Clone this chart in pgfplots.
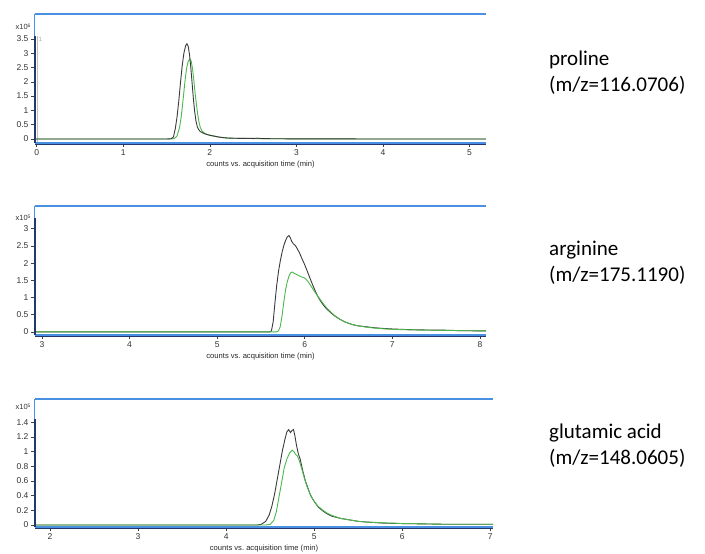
\documentclass[border=0pt]{standalone}
\usepackage{fontspec}
\setmainfont{Carlito}
\newfontfamily\tickfont{Liberation Sans}
\usepackage{pgfplots}
\pgfplotsset{compat=1.18}

\definecolor{framec}{HTML}{4A90E2}
\definecolor{axisc}{HTML}{1F3A6B}
\definecolor{trace}{HTML}{3A3A3A}
\definecolor{greentr}{HTML}{4CB84C}

\pgfplotsset{
  chrom/.style={
    scale only axis, clip=false,
    axis line style={draw=none},
    tick align=outside,
    xtick pos=bottom, ytick pos=left,
    major tick length=4pt, minor tick length=2pt,
    tick style={draw=black!75, line width=0.5pt},
    scaled y ticks=false,
    /pgf/number format/assume math mode=true,
    ticklabel style={font=\tickfont\fontsize{8.5}{9}\selectfont, text=black!80},
    yticklabel style={xshift=1pt},
    xticklabel style={yshift=1pt},
    xlabel={counts vs.\ acquisition time (min)},
    xlabel style={font=\tickfont\fontsize{7.6}{8}\selectfont, text=black!85, yshift=1pt},
  },
  blk/.style={trace, line width=0.9pt},
  grn/.style={greentr, line width=0.9pt},
}

\newcommand{\chromframe}[1]{%
  \draw[framec, line width=1.4pt] (rel axis cs:0,1) -- (rel axis cs:1,1);
  \draw[axisc, line width=1pt] ([yshift=-1.6pt]rel axis cs:0,0) -- ([yshift=-1.6pt]rel axis cs:1,0);
  \draw[framec, line width=1.4pt] (rel axis cs:0,0) -- (rel axis cs:1,0);
  \draw[framec, line width=1pt] (rel axis cs:0,0) -- (rel axis cs:0,1);
  \draw[axisc, line width=1.6pt] (rel axis cs:0,0) -- (rel axis cs:0,#1);
}

\begin{document}
\begin{tikzpicture}
\useasboundingbox (0pt,0pt) rectangle (705pt,-554pt);

% proline
\begin{axis}[chrom, at={(35pt,-14pt)}, anchor=north west,
  width=451pt, height=129pt,
  xmin=-0.02, xmax=5.19, ymin=-0.14, ymax=4.37,
  xtick={0,1,2,3,4,5}, ytick={0,0.5,1,1.5,2,2.5,3,3.5}]
\draw[black!25, line width=0.6pt] ([xshift=2.5pt]rel axis cs:0,0) -- ([xshift=2.5pt]rel axis cs:0,0.83);
\addplot[grn] coordinates {
(-0.02,0) (1.56,0) (1.59,0.02) (1.62,0.10) (1.65,0.40) (1.67,0.80) (1.69,1.35)
(1.71,1.95) (1.73,2.45) (1.75,2.72) (1.77,2.79) (1.785,2.72) (1.80,2.45)
(1.815,2.05) (1.83,1.60) (1.845,1.20) (1.86,0.85) (1.875,0.58) (1.89,0.40)
(1.91,0.28) (1.94,0.20) (1.97,0.16) (2.00,0.13) (2.05,0.10) (2.10,0.07)
(2.15,0.05) (2.20,0.03) (2.40,0.02) (2.60,0.01) (3.00,0.005) (4.00,0) (5.19,0)
};
\addplot[blk] coordinates {
(-0.02,0) (1.50,0) (1.555,0.01) (1.58,0.08) (1.60,0.35) (1.62,0.75) (1.64,1.30)
(1.66,1.95) (1.68,2.55) (1.70,3.00) (1.72,3.26) (1.735,3.33) (1.75,3.24)
(1.765,2.95) (1.78,2.50) (1.795,1.95) (1.81,1.40) (1.825,0.95) (1.84,0.62)
(1.855,0.43) (1.87,0.33) (1.89,0.26) (1.92,0.21) (1.96,0.16) (2.00,0.13)
(2.05,0.10) (2.10,0.07) (2.15,0.05) (2.20,0.035) (2.30,0.025) (2.40,0.02)
(2.50,0.02) (2.55,0.03) (2.60,0.015) (2.70,0.01) (3.00,0.005) (4.00,0) (5.19,0)
};
\chromframe{0.83}
\node[anchor=east, font=\tickfont\fontsize{7.5}{8}\selectfont, text=black!80]
  at ([xshift=-1pt]rel axis cs:0,0.90) {x10\raisebox{2.5pt}{\fontsize{5}{5}\selectfont 6}};
\node[anchor=west, inner sep=0pt, font=\tickfont\fontsize{6}{6}\selectfont, text=black!35]
  at ([xshift=3.5pt]rel axis cs:0,0.80) {1};
\end{axis}

% arginine
\begin{axis}[chrom, at={(35pt,-206pt)}, anchor=north west,
  width=451pt, height=129pt,
  xmin=2.92, xmax=8.07, ymin=-0.09, ymax=3.66,
  xtick={3,4,5,6,7,8}, minor x tick num=9, ytick={0,0.5,1,1.5,2,2.5,3}]
\addplot[blk] coordinates {
(2.92,0) (5.60,0) (5.62,0.03) (5.64,0.30) (5.66,0.85) (5.68,1.35) (5.70,1.75)
(5.72,2.05) (5.74,2.30) (5.76,2.50) (5.78,2.65) (5.80,2.76) (5.82,2.80)
(5.835,2.74) (5.85,2.64) (5.87,2.56) (5.89,2.52) (5.91,2.44) (5.94,2.30)
(5.97,2.12) (6.00,1.95) (6.03,1.76) (6.06,1.56) (6.09,1.37) (6.12,1.19)
(6.15,1.03) (6.18,0.90) (6.21,0.79) (6.25,0.67) (6.30,0.55) (6.35,0.45)
(6.40,0.37) (6.45,0.30) (6.50,0.25) (6.55,0.21) (6.60,0.18) (6.70,0.15)
(6.80,0.12) (6.90,0.10) (7.00,0.085) (7.20,0.065) (7.40,0.055) (7.60,0.05)
(7.80,0.035) (8.00,0.03) (8.07,0.03)
};
\addplot[grn] coordinates {
(2.92,0) (5.68,0) (5.70,0.03) (5.72,0.15) (5.74,0.45) (5.76,0.85) (5.78,1.20)
(5.80,1.45) (5.82,1.62) (5.84,1.72) (5.86,1.74) (5.88,1.70) (5.90,1.68)
(5.93,1.64) (5.96,1.60) (5.99,1.58) (6.02,1.52) (6.05,1.42) (6.08,1.30)
(6.11,1.18) (6.14,1.07) (6.17,0.97) (6.20,0.86) (6.25,0.70) (6.30,0.57)
(6.35,0.46) (6.40,0.37) (6.45,0.30) (6.50,0.25) (6.55,0.21) (6.60,0.18)
(6.70,0.14) (6.80,0.11) (6.90,0.09) (7.00,0.075) (7.20,0.06) (7.40,0.05)
(7.60,0.045) (7.80,0.035) (8.07,0.03)
};
\chromframe{0.91}
\node[anchor=east, font=\tickfont\fontsize{7.5}{8}\selectfont, text=black!80]
  at ([xshift=-1pt]rel axis cs:0,0.91) {x10\raisebox{2.5pt}{\fontsize{5}{5}\selectfont 5}};
\end{axis}

% glutamic acid
\begin{axis}[chrom, at={(35pt,-399pt)}, anchor=north west,
  width=458pt, height=128pt,
  xmin=1.83, xmax=7.03, ymin=-0.027, ymax=1.717,
  xtick={2,3,4,5,6,7}, minor x tick num=9,
  ytick={0,0.2,0.4,0.6,0.8,1,1.2,1.4}]
\addplot[blk] coordinates {
(1.83,0) (4.35,0) (4.40,0.01) (4.45,0.05) (4.49,0.14) (4.52,0.26) (4.55,0.42)
(4.58,0.62) (4.61,0.82) (4.64,1.02) (4.67,1.18) (4.69,1.27) (4.71,1.30)
(4.73,1.26) (4.75,1.29) (4.765,1.30) (4.78,1.22) (4.80,1.08) (4.82,0.97)
(4.84,0.90) (4.87,0.74) (4.90,0.60) (4.93,0.50) (4.96,0.40) (5.00,0.32)
(5.05,0.24) (5.10,0.19) (5.15,0.15) (5.20,0.12) (5.30,0.09) (5.40,0.07)
(5.50,0.05) (5.60,0.04) (5.80,0.025) (6.00,0.02) (6.50,0.01) (7.03,0.01)
};
\addplot[grn] coordinates {
(1.83,0) (4.45,0) (4.50,0.01) (4.54,0.06) (4.57,0.18) (4.60,0.38) (4.63,0.58)
(4.66,0.78) (4.69,0.90) (4.72,0.98) (4.75,1.02) (4.77,1.00) (4.79,0.96)
(4.81,0.94) (4.83,0.88) (4.86,0.76) (4.89,0.63) (4.92,0.52) (4.95,0.43)
(4.99,0.34) (5.04,0.26) (5.10,0.20) (5.15,0.16) (5.20,0.13) (5.30,0.09)
(5.40,0.07) (5.50,0.05) (5.60,0.04) (5.80,0.03) (6.00,0.02) (6.50,0.01) (7.03,0.01)
};
\chromframe{0.84}
\node[anchor=east, font=\tickfont\fontsize{7.5}{8}\selectfont, text=black!80]
  at ([xshift=-1pt]rel axis cs:0,0.94) {x10\raisebox{2.5pt}{\fontsize{5}{5}\selectfont 5}};
\end{axis}

% compound labels
\begin{scope}[every node/.style={anchor=base west, inner sep=0pt, font=\fontsize{21}{25}\selectfont}]
\node at (549pt,-65pt) {proline};
\node at (549pt,-91pt) {(m/z=116.0706)};
\node at (549pt,-255pt) {arginine};
\node at (549pt,-281pt) {(m/z=175.1190)};
\node at (549pt,-438pt) {glutamic acid};
\node at (549pt,-464pt) {(m/z=148.0605)};
\end{scope}
\end{tikzpicture}
\end{document}
